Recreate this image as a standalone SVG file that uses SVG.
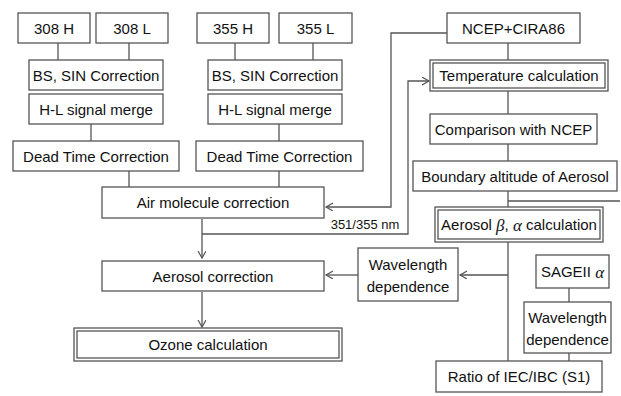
<svg xmlns="http://www.w3.org/2000/svg" width="621" height="396" viewBox="0 0 621 396">
<defs>
<style>
.b{fill:#fff;stroke:#555;stroke-width:1.3}
.d{fill:none;stroke:#555;stroke-width:1.3}
.c{fill:none;stroke:#555;stroke-width:1.3}
text{font-family:"Liberation Sans",Arial,sans-serif;font-size:15px;fill:#111;text-anchor:middle;dominant-baseline:central}
.s{font-size:13px}
.g{font-family:"Liberation Serif","DejaVu Serif",serif;font-style:italic;font-size:17px}
</style>
<marker id="a" markerUnits="userSpaceOnUse" markerWidth="10" markerHeight="10" refX="7" refY="4" orient="auto">
<path d="M0,0 L7,4 L0,8" fill="none" stroke="#555" stroke-width="1.2"/>
</marker>
</defs>
<rect width="621" height="396" fill="#fff"/>
<g id="connectors">
<path class="c" d="M58,43V60M129,43V60M91,124V141M129,171V187M235,43V60M313,43V60M279,124V141M279,171V187"/>
<path class="c" d="M447,33H391V207H326" marker-end="url(#a)"/>
<path class="c" d="M202,234H408V81H429" marker-end="url(#a)"/>
<path class="c" d="M202,219V258" marker-end="url(#a)"/>
<path class="c" d="M202,292V327" marker-end="url(#a)"/>
<path class="c" d="M508,43V60M508,91V114M508,144V161M508,191V207M508,201H620M508,242V361M569,288V302M569,353V361"/>
<path class="c" d="M508,275H460" marker-end="url(#a)"/>
<path class="c" d="M358,275H326" marker-end="url(#a)"/>
<text class="s" x="365" y="224">351/355 nm</text>
</g>
<g id="n308h"><rect class="b" x="18" y="13" width="72" height="30"/><text x="54" y="28">308 H</text></g>
<g id="n308l"><rect class="b" x="96" y="13" width="72" height="30"/><text x="132" y="28">308 L</text></g>
<g id="bs1"><rect class="b" x="29" y="60" width="134" height="30"/><text x="96" y="75">BS, SIN Correction</text></g>
<g id="hl1"><rect class="b" x="29" y="94" width="134" height="30"/><text x="96" y="109">H-L signal merge</text></g>
<g id="dt1"><rect class="b" x="13" y="141" width="166" height="30"/><text x="96" y="156">Dead Time Correction</text></g>
<g id="n355h"><rect class="b" x="197" y="13" width="72" height="30"/><text x="233" y="28">355 H</text></g>
<g id="n355l"><rect class="b" x="279" y="13" width="73" height="30"/><text x="315.5" y="28">355 L</text></g>
<g id="bs2"><rect class="b" x="208" y="60" width="134" height="30"/><text x="275" y="75">BS, SIN Correction</text></g>
<g id="hl2"><rect class="b" x="208" y="94" width="134" height="30"/><text x="275" y="109">H-L signal merge</text></g>
<g id="dt2"><rect class="b" x="196" y="141" width="167" height="30"/><text x="279.5" y="156">Dead Time Correction</text></g>
<g id="air"><rect class="b" x="102" y="187" width="222" height="31"/><text x="213" y="202.5">Air molecule correction</text></g>
<g id="aer"><rect class="b" x="102" y="261" width="222" height="30"/><text x="213" y="276">Aerosol correction</text></g>
<g id="ozone"><rect class="b" x="74" y="328" width="268" height="33"/><rect class="d" x="77" y="331" width="262" height="27"/><text x="208" y="344.5">Ozone calculation</text></g>
<g id="ncep"><rect class="b" x="447" y="13" width="133" height="30"/><text x="513.5" y="28">NCEP+CIRA86</text></g>
<g id="temp"><rect class="b" x="430" y="60" width="178" height="31"/><rect class="d" x="433" y="63" width="172" height="25"/><text x="519" y="75.5">Temperature calculation</text></g>
<g id="comp"><rect class="b" x="430" y="114" width="167" height="30"/><text x="513.5" y="129">Comparison with NCEP</text></g>
<g id="bound"><rect class="b" x="413" y="161" width="204" height="30"/><text x="515" y="176">Boundary altitude of Aerosol</text></g>
<g id="aerba"><rect class="b" x="435" y="207" width="168" height="35"/><rect class="d" x="438" y="210" width="162" height="29"/><text x="519" y="224.5">Aerosol <tspan class="g">β</tspan>, <tspan class="g">α</tspan> calculation</text></g>
<g id="wl1"><rect class="b" x="358" y="248" width="100" height="53"/><text x="408" y="264">Wavelength</text><text x="408" y="286">dependence</text></g>
<g id="sage"><rect class="b" x="536" y="255" width="73" height="33"/><text x="572.5" y="271.5">SAGEII <tspan class="g">α</tspan></text></g>
<g id="wl2"><rect class="b" x="524" y="302" width="87" height="51"/><text x="567.5" y="317">Wavelength</text><text x="567.5" y="339">dependence</text></g>
<g id="ratio"><rect class="b" x="436" y="361" width="166" height="31"/><text x="519" y="376.5">Ratio of IEC/IBC (S1)</text></g>
</svg>
